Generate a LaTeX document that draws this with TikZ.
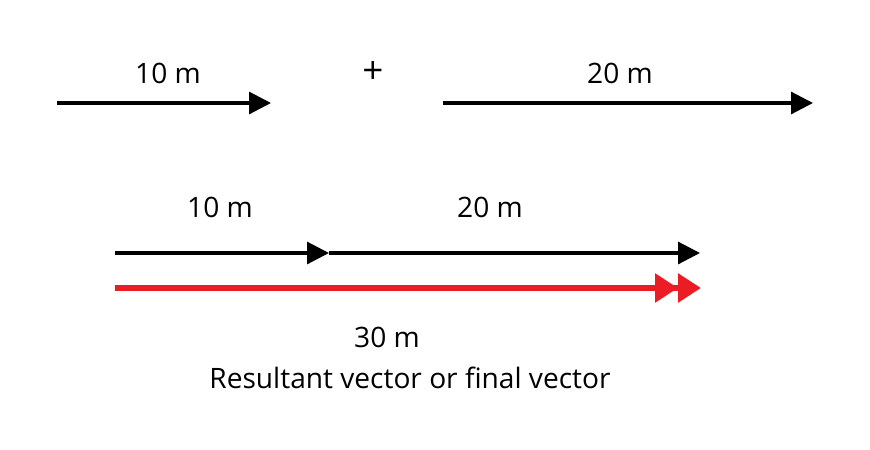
\documentclass[tikz,border=0pt]{standalone}
\usepackage{fontspec}
\setmainfont{Open Sans}
\usepackage{tikz}
\usetikzlibrary{arrows.meta,positioning}
\definecolor{resred}{RGB}{236,28,36}

\begin{document}
\begin{tikzpicture}[
    x=0.02cm, y=-0.02cm,
    vec/.style={-{Triangle[length=0.44cm,width=0.44cm]}, line width=1.8pt},
    resvec/.style={-{Triangle[length=0.46cm,width=0.56cm]Triangle[length=0.46cm,width=0.56cm]}, line width=3.4pt, resred},
    lbl/.style={font=\fontsize{16}{18}\selectfont}
]
\useasboundingbox (0,0) rectangle (870,450);

% separate vectors
\coordinate (a1) at (57,103);
\coordinate (a2) at (271,103);
\coordinate (b1) at (443,103);
\coordinate (b2) at (813,103);
\draw[vec] (a1) -- (a2);
\draw[vec] (b1) -- (b2);
\node[lbl] (la) at (168,73) {10 m};
\node[lbl, font=\fontsize{21}{22}\selectfont] (plus) at (373,73) {+};
\node[lbl] (lb) at (620,73) {20 m};

% head to tail
\coordinate (c1) at (115,253);
\coordinate (c2) at (329,253);
\coordinate (c3) at (700,253);
\draw[vec] (c1) -- (c2);
\draw[vec] (c2) -- (c3);
\node[lbl] (lc) at (220,207) {10 m};
\node[lbl] (ld) at (490,207) {20 m};

% resultant
\coordinate (r1) at (115,288);
\coordinate (r2) at (701,288);
\draw[resvec] (r1) -- (r2);
\node[lbl] (lr) at (387,337) {30 m};
\node[lbl] (cap) at (410,378) {Resultant vector or final vector};

\end{tikzpicture}
\end{document}
